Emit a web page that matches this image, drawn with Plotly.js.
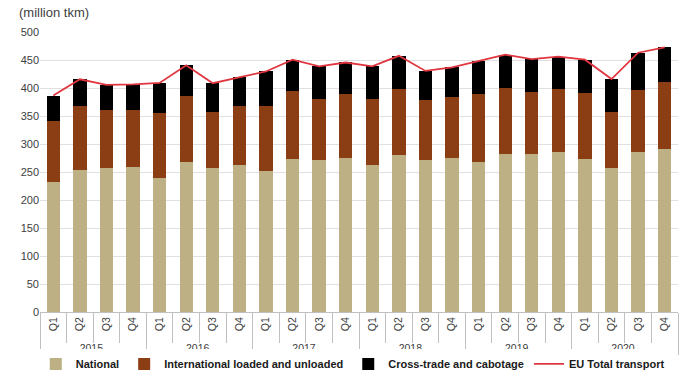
<!DOCTYPE html>
<html><head><meta charset="utf-8">
<script src="https://cdn.plot.ly/plotly-3.0.1.min.js"></script>
<style>html,body{margin:0;padding:0;background:#fff;}#chart{width:689px;height:374px;}</style>
</head><body><div id="chart"></div>
<script>
const years = ["2015","2016","2017","2018","2019","2020"];
const quarters = ["Q1","Q2","Q3","Q4"];
const national = [233,254,257,259.5, 240,268,258,262, 252,274,271,275, 262,280,271.5,275, 268,283,282,285, 273,258,286,291];
const international = [108,113.5,103,102, 114.5,117,99.5,105.5, 116,120,110,115, 119,119,107.5,109, 121.5,117.5,111.5,114, 117.5,99.5,111,119];
const crossTrade = [45.5,48.5,46,45, 54.5,55.5,51.5,51.5, 61.5,56.5,57.5,56, 57.5,58.5,52,53, 59,59,58,57, 60,58.5,66,62.5];
const euTotal = [386.5,415.5,405.5,406.5, 409,440.5,408.5,419.5, 429.5,450.5,438.5,445.5, 438.5,457.5,430.5,437, 448.5,459.5,451.5,456, 450.5,416,463,472.5];

const xYear = [], xQ = [];
years.forEach(y => quarters.forEach(q => { xYear.push(y); xQ.push(q); }));
const x = [xYear, xQ];

const traces = [
  {type:'bar', name:'National', x:x, y:national, marker:{color:'#BCB084'}},
  {type:'bar', name:'International loaded and unloaded', x:x, y:international, marker:{color:'#8B3D14'}},
  {type:'bar', name:'Cross-trade and cabotage', x:x, y:crossTrade, marker:{color:'#000000'}},
  {type:'scatter', mode:'lines', name:'EU Total transport', x:x, y:euTotal, line:{color:'#E0363F', width:1.8}}
];

const layout = {
  width:689, height:374,
  margin:{l:40, r:11, t:32, b:62, autoexpand:false},
  barmode:'stack', bargap:0.5,
  paper_bgcolor:'#fff', plot_bgcolor:'#fff',
  font:{family:'Liberation Sans, Arial, sans-serif', size:11, color:'#404040'},
  showlegend:true,
  legend:{orientation:'h', xref:'container', yref:'container', x:0.512, xanchor:'center', y:0.027, yanchor:'middle',
          font:{size:11, color:'#1a1a1a', weight:'bold'}, traceorder:'normal', itemwidth:30},
  xaxis:{type:'multicategory', automargin:false, tickangle:-90, tickson:'boundaries', ticks:'outside', ticklen:30,
         tickcolor:'#c0c0c0', showline:true, linecolor:'#c0c0c0', showdividers:true,
         dividercolor:'#c0c0c0', dividerwidth:1, showgrid:false, tickfont:{size:10.5, color:'#404040'}},
  yaxis:{range:[0,500], dtick:50, automargin:false, showgrid:true, gridcolor:'#e0e0e0', zeroline:false,
         ticks:'', tickfont:{size:11, color:'#404040'}, fixedrange:true},
  annotations:[{text:'(million tkm)', xref:'paper', yref:'paper', x:-0.036, xanchor:'left',
                y:1.071, yanchor:'middle', showarrow:false, font:{size:13, color:'#404040'}}]
};

Plotly.newPlot('chart', traces, layout, {displayModeBar:false, staticPlot:true});
</script></body></html>
